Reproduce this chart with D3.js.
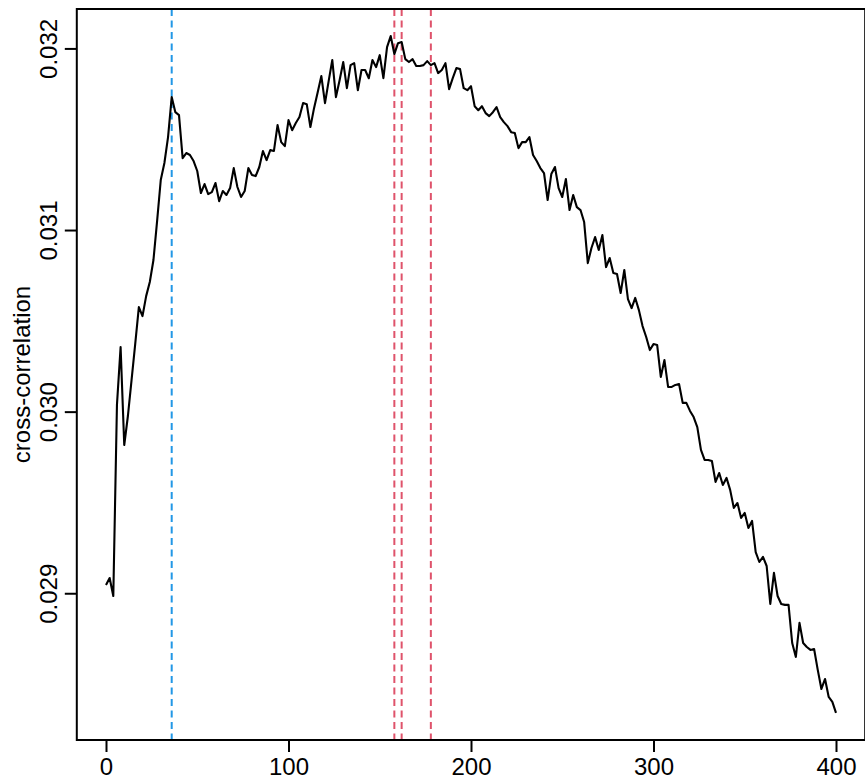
<!DOCTYPE html>
<html><head><meta charset="utf-8">
<script src="https://cdn.jsdelivr.net/npm/d3@7"></script>
<style>body{margin:0;background:#fff}svg{display:block}</style>
</head><body><svg id="c" width="865" height="781"></svg>
<script>
const lags = [0,2,4,6,8,10,12,14,16,18,20,22,24,26,28,30,32,34,36,38,40,42,44,46,48,50,52,54,56,58,60,62,64,66,68,70,72,74,76,78,80,82,84,86,88,90,92,94,96,98,100,102,104,106,108,110,112,114,116,118,120,122,124,126,128,130,132,134,136,138,140,142,144,146,148,150,152,154,156,158,160,162,164,166,168,170,172,174,176,178,180,182,184,186,188,190,192,194,196,198,200,202,204,206,208,210,212,214,216,218,220,222,224,226,228,230,232,234,236,238,240,242,244,246,248,250,252,254,256,258,260,262,264,266,268,270,272,274,276,278,280,282,284,286,288,290,292,294,296,298,300,302,304,306,308,310,312,314,316,318,320,322,324,326,328,330,332,334,336,338,340,342,344,346,348,350,352,354,356,358,360,362,364,366,368,370,372,374,376,378,380,382,384,386,388,390,392,394,396,398,400];
const xcorr = [
0.029046,0.029084,0.028985,0.030037,0.030356,0.029816,0.029976,0.030174,0.030372,0.030576,
0.030526,0.030636,0.030714,0.030835,0.031049,0.031275,0.031369,0.031512,0.031732,0.031649,
0.031633,0.031396,0.031424,0.031413,0.031380,0.031325,0.031204,0.031253,0.031198,0.031209,
0.031259,0.031159,0.031215,0.031193,0.031231,0.031341,0.031237,0.031182,0.031215,0.031341,
0.031303,0.031297,0.031347,0.031435,0.031385,0.031440,0.031435,0.031578,0.031484,0.031462,
0.031605,0.031550,0.031589,0.031622,0.031699,0.031693,0.031567,0.031671,0.031759,0.031848,
0.031699,0.031820,0.031936,0.031732,0.031825,0.031925,0.031781,0.031908,0.031919,0.031770,
0.031881,0.031881,0.031836,0.031936,0.031897,0.031963,0.031836,0.032007,0.032068,0.031969,
0.032029,0.032035,0.031941,0.031925,0.031941,0.031903,0.031903,0.031908,0.031930,0.031908,
0.031919,0.031864,0.031881,0.031919,0.031776,0.031836,0.031892,0.031886,0.031781,0.031770,
0.031792,0.031682,0.031660,0.031682,0.031644,0.031627,0.031649,0.031677,0.031622,0.031594,
0.031572,0.031539,0.031534,0.031451,0.031484,0.031484,0.031512,0.031413,0.031380,0.031341,
0.031314,0.031165,0.031308,0.031347,0.031231,0.031182,0.031281,0.031110,0.031193,0.031126,
0.031110,0.031044,0.030818,0.030901,0.030961,0.030890,0.030972,0.030796,0.030846,0.030763,
0.030758,0.030653,0.030780,0.030620,0.030570,0.030626,0.030559,0.030471,0.030411,0.030339,
0.030372,0.030367,0.030191,0.030284,0.030136,0.030136,0.030147,0.030152,0.030048,0.030048,
0.030004,0.029970,0.029915,0.029789,0.029734,0.029734,0.029728,0.029613,0.029662,0.029596,
0.029635,0.029569,0.029470,0.029497,0.029415,0.029442,0.029359,0.029398,0.029227,0.029172,
0.029200,0.029150,0.028941,0.029112,0.028985,0.028941,0.028936,0.028936,0.028726,0.028649,
0.028837,0.028726,0.028704,0.028688,0.028693,0.028578,0.028473,0.028528,0.028429,0.028402,
0.028341];
const blueLags = [36];
const redLags = [158, 162, 178];
const xTicks = [0, 100, 200, 300, 400];
const yTicks = [0.029, 0.030, 0.031, 0.032];
const yTickLabels = ["0.029", "0.030", "0.031", "0.032"];
const yTitle = "cross-correlation";

const plot = {left: 76.8, right: 865.2, top: 9, bottom: 740};
const svg = d3.select("#c");
const font = "'Liberation Sans', Arial, Helvetica, sans-serif";
const fs = 24;

// R-style 4% range extension
const xe = d3.extent(lags), ye = d3.extent(xcorr);
const xp = (xe[1]-xe[0])*0.04, yp = (ye[1]-ye[0])*0.04;
const x = d3.scaleLinear().domain([xe[0]-xp, xe[1]+xp]).range([plot.left, plot.right]);
const y = d3.scaleLinear().domain([ye[0]-yp, ye[1]+yp]).range([plot.bottom, plot.top]);

// vertical reference lines
const vl = svg.append("g");
vl.selectAll("line.b").data(blueLags).join("line")
  .attr("x1", d=>x(d)).attr("x2", d=>x(d)).attr("y1", plot.top).attr("y2", plot.bottom)
  .attr("stroke", "#2297E6").attr("stroke-width", 2).attr("stroke-dasharray", "7,4.5");
vl.selectAll("line.r").data(redLags).join("line")
  .attr("x1", d=>x(d)).attr("x2", d=>x(d)).attr("y1", plot.top).attr("y2", plot.bottom)
  .attr("stroke", "#DF536B").attr("stroke-width", 2).attr("stroke-dasharray", "7,4.5");

// series
svg.append("path").datum(lags.map((l,i)=>[l, xcorr[i]]))
  .attr("fill","none").attr("stroke","#000").attr("stroke-width",2.1)
  .attr("stroke-linejoin","round")
  .attr("d", d3.line().x(d=>x(d[0])).y(d=>y(d[1])));

// box
svg.append("rect").attr("x", plot.left).attr("y", plot.top)
  .attr("width", plot.right-plot.left).attr("height", plot.bottom-plot.top)
  .attr("fill","none").attr("stroke","#000").attr("stroke-width",2);

// x axis
const gx = svg.append("g").attr("transform", `translate(0,${plot.bottom})`)
  .call(d3.axisBottom(x).tickValues(xTicks).tickSize(12).tickPadding(6).tickFormat(d3.format("d")));
gx.select(".domain").remove();
gx.selectAll("line").attr("stroke","#000").attr("stroke-width",2);
gx.selectAll("text").attr("font-family", font).attr("font-size", fs).attr("fill","#000");

// y axis
const gy = svg.append("g").attr("transform", `translate(${plot.left},0)`)
  .call(d3.axisLeft(y).tickValues(yTicks).tickSize(12).tickFormat((d,i)=>yTickLabels[i]));
gy.select(".domain").remove();
gy.selectAll("line").attr("stroke","#000").attr("stroke-width",2);
gy.selectAll("text").attr("font-family", font).attr("font-size", fs).attr("fill","#000")
  .attr("x", null).attr("dy", null)
  .attr("text-anchor","middle")
  .attr("transform", "translate(-20,0) rotate(-90)");

// y title
svg.append("text").attr("font-family", font).attr("font-size", fs).attr("fill","#000")
  .attr("text-anchor","middle")
  .attr("transform", `translate(30,${(plot.top+plot.bottom)/2}) rotate(-90)`)
  .text(yTitle);
</script></body></html>
